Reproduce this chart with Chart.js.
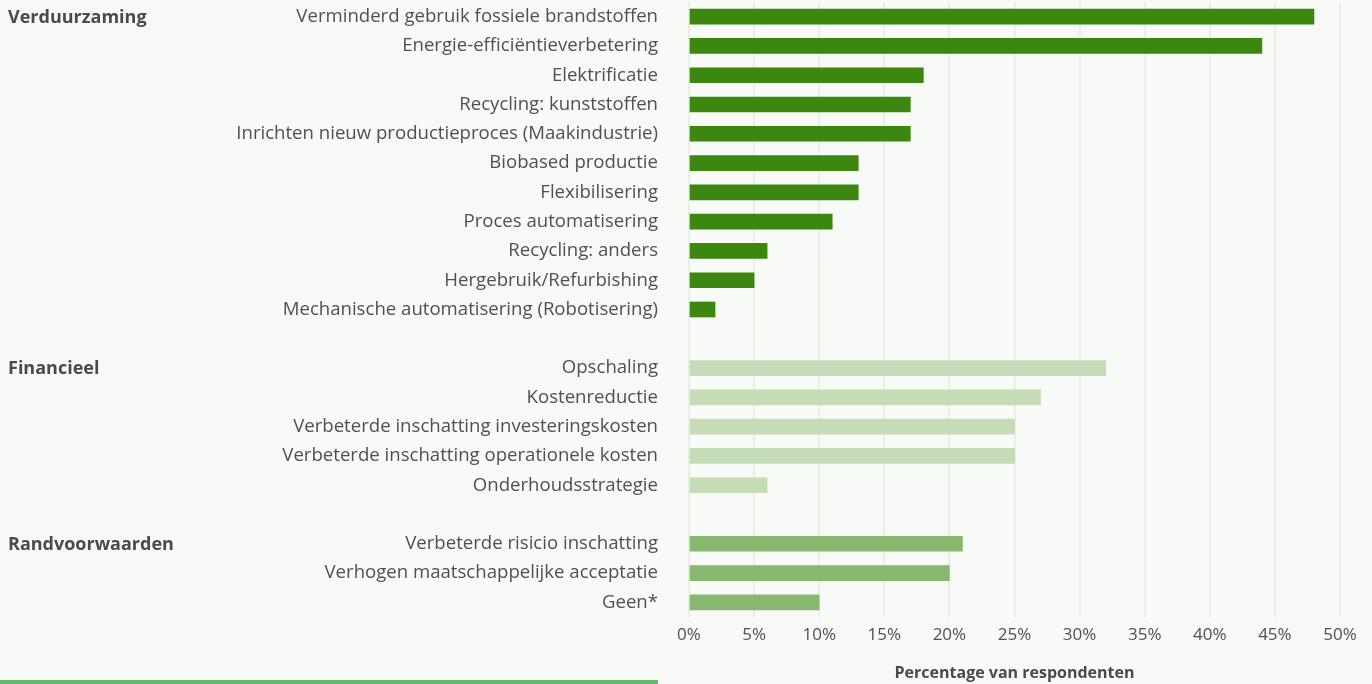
<!DOCTYPE html>
<html>
<head>
<meta charset="utf-8">
<script src="https://cdn.jsdelivr.net/npm/chart.js@4"></script>
<style>
  html, body { margin: 0; padding: 0; background: #f8faf7; }
  #wrap { width: 1372px; height: 684px; position: relative; }
</style>
</head>
<body>
<div id="wrap"><canvas id="innovatieChart"></canvas></div>
<script>
// groepen en waarden (percentage van respondenten)
const verduurzamingLabels = [
    'Verminderd gebruik fossiele brandstoffen',
    'Energie-efficiëntieverbetering',
    'Elektrificatie',
    'Recycling: kunststoffen',
    'Inrichten nieuw productieproces (Maakindustrie)',
    'Biobased productie',
    'Flexibilisering',
    'Proces automatisering',
    'Recycling: anders',
    'Hergebruik/Refurbishing',
    'Mechanische automatisering (Robotisering)'
];
const verduurzamingValues = [48, 44, 18, 17, 17, 13, 13, 11, 6, 5, 2];

const financieelLabels = [
    'Opschaling',
    'Kostenreductie',
    'Verbeterde inschatting investeringskosten',
    'Verbeterde inschatting operationele kosten',
    'Onderhoudsstrategie'
];
const financieelValues = [32, 27, 25, 25, 6];

const randvoorwaardenLabels = [
    'Verbeterde risicio inschatting',
    'Verhogen maatschappelijke acceptatie',
    'Geen*'
];
const randvoorwaardenValues = [21, 20, 10];

const groupNames = ['Verduurzaming', 'Financieel', 'Randvoorwaarden'];
const xTicks = [0, 5, 10, 15, 20, 25, 30, 35, 40, 45, 50];

function buildChart() {
    const green = '#3b870f', light = '#c6dcb6', mid = '#88b86e';
    let labels = [].concat(verduurzamingLabels, [''], financieelLabels, [' '], randvoorwaardenLabels);
    let values = [].concat(verduurzamingValues, [null], financieelValues, [null], randvoorwaardenValues);
    let colors = [].concat(
        verduurzamingValues.map(() => green), [green],
        financieelValues.map(() => light), [light],
        randvoorwaardenValues.map(() => mid)
    );
    let groupStart = [0, verduurzamingLabels.length + 1, verduurzamingLabels.length + financieelLabels.length + 2];

    const extras = {
        id: 'extras',
        beforeDraw(chart) {
            const c = chart.ctx;
            c.save();
            c.fillStyle = '#f8faf7';
            c.fillRect(0, 0, chart.width, chart.height);
            c.restore();
        },
        afterDraw(chart) {
            const c = chart.ctx;
            const y = chart.scales.y;
            c.save();
            c.font = 'bold 18px "Open Sans"';
            c.fillStyle = '#4a4a4a';
            c.textAlign = 'left';
            c.textBaseline = 'middle';
            groupNames.forEach((g, i) => {
                c.fillText(g, 8, y.getPixelForValue(groupStart[i]) + 1);
            });
            // groene lijn onderaan
            c.fillStyle = '#6cb86a';
            c.fillRect(0, 680, 658, 4);
            c.restore();
        }
    };

    let ctx = document.getElementById('innovatieChart').getContext('2d');
    new Chart(ctx, {
        type: 'bar',
        data: {
            labels: labels,
            datasets: [{
                data: values,
                backgroundColor: colors,
                barThickness: 15,
                borderWidth: 0
            }]
        },
        options: {
            indexAxis: 'y',
            responsive: true,
            maintainAspectRatio: false,
            animation: false,
            layout: { padding: { top: 2, right: 32, left: 0, bottom: 0 } },
            plugins: {
                legend: { display: false },
                tooltip: { enabled: false }
            },
            scales: {
                y: {
                    grid: { display: false, drawTicks: false },
                    border: { display: false },
                    ticks: {
                        padding: 31,
                        color: '#505050',
                        font: { family: 'Open Sans', size: 18.6 },
                        autoSkip: false
                    },
                    afterFit(scale) {
                        scale.width = 689;
                        scale.paddingTop = 0;
                        scale.paddingBottom = 0;
                    }
                },
                x: {
                    min: 0,
                    max: 50,
                    afterBuildTicks(scale) { scale.ticks = xTicks.map(v => ({ value: v })); },
                    grid: { color: '#e8f0e3', lineWidth: 2, drawTicks: false },
                    border: { display: false },
                    ticks: {
                        padding: 8,
                        color: '#505050',
                        maxRotation: 0,
                        font: { family: 'Open Sans', size: 17 },
                        callback: v => v + '%'
                    },
                    title: {
                        display: true,
                        text: 'Percentage van respondenten',
                        color: '#4a4a4a',
                        font: { family: 'Open Sans', size: 16, weight: 'bold' },
                        padding: { top: 0, bottom: 1 }
                    },
                    afterFit(scale) { scale.height = 67; }
                }
            }
        },
        plugins: [extras]
    });
}

buildChart();
</script>
</body>
</html>
